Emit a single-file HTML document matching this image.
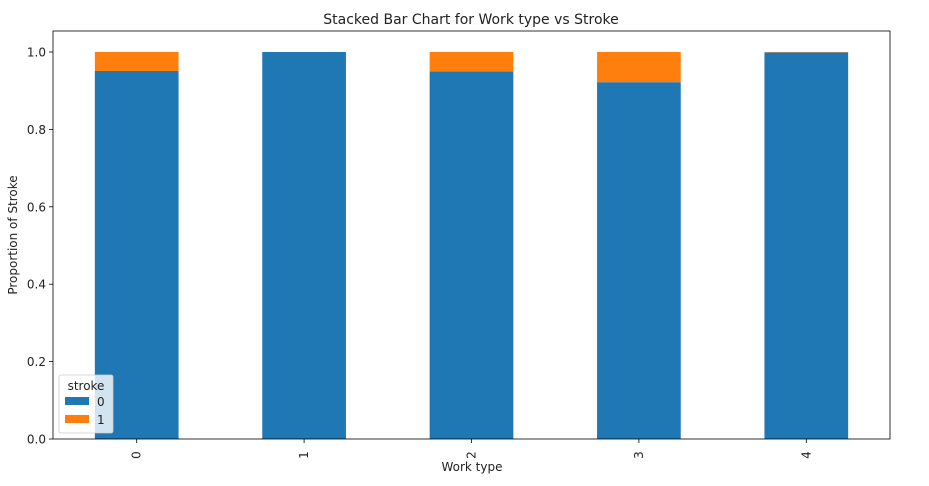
<!DOCTYPE html>
<html><head><meta charset="utf-8"><style>
body{margin:0;background:#fff;font-family:"Liberation Sans","DejaVu Sans",sans-serif}
</style></head><body>
<svg id="c" width="929" height="481" viewBox="0 0 929 481" xmlns="http://www.w3.org/2000/svg" font-family="'DejaVu Sans','Liberation Sans',sans-serif"></svg>
<script>
const categories=["0","1","2","3","4"];
const stroke0=[0.951,1.0,0.950,0.922,0.999];
const stroke1=[0.049,0.0,0.050,0.078,0.001];
const yTicks=[0,0.2,0.4,0.6,0.8,1.0];
const yTickLabels=["0.0","0.2","0.4","0.6","0.8","1.0"];
const NS="http://www.w3.org/2000/svg";
const svg=document.getElementById('c');
const L=53,R=890,T=31,B=439,Y1=52;
const y=v=>B-(B-Y1)*v;
const step=(R-L)/categories.length;
const xc=i=>L+step*(i+0.5);
const bw=step*0.5;
function mk(t,a,txt){const e=document.createElementNS(NS,t);for(const k in a)e.setAttribute(k,a[k]);if(txt!=null)e.textContent=txt;svg.appendChild(e);return e;}
categories.forEach((c,i)=>{
 const b=mk('rect',{x:xc(i)-bw/2,y:y(stroke0[i]),width:bw,height:y(0)-y(stroke0[i]),fill:'#1f77b4'});
 
 
 const o=mk('rect',{x:xc(i)-bw/2,y:y(stroke0[i]+stroke1[i]),width:bw,height:y(stroke0[i])-y(stroke0[i]+stroke1[i]),fill:'#ff7f0e'});
 
 
 mk('line',{x1:xc(i),x2:xc(i),y1:B,y2:B+4,stroke:'#000','stroke-width':0.8});
 const t=mk('text',{x:0,y:0,'font-size':12,'text-anchor':'middle',fill:'#222',transform:`translate(${xc(i)+4},${B+16}) rotate(-90)`},c);
 
 
});
yTicks.forEach((v,i)=>{
 mk('line',{x1:L-4,x2:L,y1:y(v),y2:y(v),stroke:'#000','stroke-width':0.8});
 const t=mk('text',{x:L-7,y:y(v)+4.5,'font-size':12,'text-anchor':'end',fill:'#222'},yTickLabels[i]);
 
 
});
const f=mk('rect',{x:L,y:T,width:R-L,height:B-T,fill:'none',stroke:'#000','stroke-width':0.8});

</script>
<svg width="929" height="481" style="position:absolute;left:0;top:0" font-family="'DejaVu Sans','Liberation Sans',sans-serif">
<text x="471" y="24" font-size="14" text-anchor="middle" fill="#222">Stacked Bar Chart for Work type vs Stroke</text>
<text x="472" y="471" font-size="12" text-anchor="middle" fill="#222">Work type</text>
<text transform="translate(17,235) rotate(-90)" font-size="12" text-anchor="middle" fill="#222">Proportion of Stroke</text>
<g>
<rect x="59" y="375" width="54" height="58" rx="2" fill="#fff" fill-opacity="0.8" stroke="#ccc" stroke-width="0.8"/>
<text x="86" y="390" font-size="12" text-anchor="middle" fill="#222">stroke</text>
<rect x="65" y="397" width="24" height="8" fill="#1f77b4"/>
<text x="97" y="406" font-size="12" fill="#222">0</text>
<rect x="65" y="415" width="24" height="8" fill="#ff7f0e"/>
<text x="97" y="424" font-size="12" fill="#222">1</text>
</g>
</svg>
</body></html>
